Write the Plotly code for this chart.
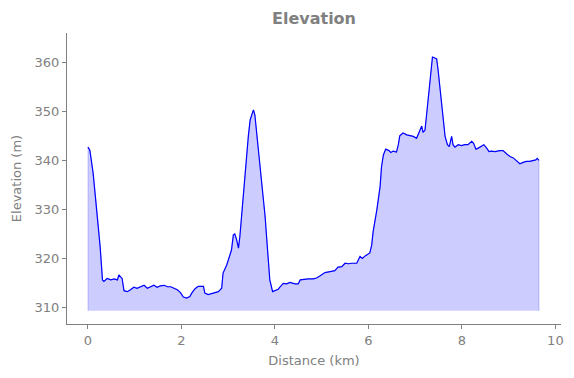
import plotly.graph_objects as go

distance_km = [0.00, 0.04, 0.11, 0.19, 0.21, 0.26, 0.31, 0.34, 0.41, 0.49, 0.56, 0.63, 0.66, 0.70, 0.73,
               0.77, 0.84, 0.91, 0.98, 1.05, 1.13, 1.20, 1.27, 1.34, 1.41, 1.48, 1.55, 1.63, 1.70, 1.77,
               1.84, 1.91, 1.98, 2.04, 2.11, 2.18, 2.22, 2.29, 2.36, 2.47, 2.50, 2.57, 2.68, 2.79, 2.86,
               2.89, 2.97, 3.04, 3.07, 3.11, 3.14, 3.18, 3.22, 3.25, 3.29, 3.32, 3.36, 3.39, 3.43, 3.47,
               3.50, 3.54, 3.57, 3.61, 3.64, 3.68, 3.72, 3.75, 3.79, 3.82, 3.86, 3.89, 3.95, 4.00, 4.07,
               4.11, 4.18, 4.25, 4.32, 4.43, 4.50, 4.54, 4.64, 4.71, 4.82, 4.89, 4.96, 5.07, 5.18, 5.28,
               5.35, 5.43, 5.50, 5.57, 5.64, 5.75, 5.82, 5.87, 5.93, 6.03, 6.07, 6.10, 6.18, 6.25, 6.28,
               6.32, 6.37, 6.44, 6.48, 6.53, 6.60, 6.64, 6.67, 6.74, 6.82, 6.89, 6.96, 7.03, 7.10, 7.14,
               7.17, 7.21, 7.24, 7.28, 7.32, 7.35, 7.37, 7.42, 7.46, 7.49, 7.53, 7.57, 7.60, 7.64, 7.69,
               7.73, 7.78, 7.81, 7.85, 7.92, 7.99, 8.06, 8.13, 8.21, 8.25, 8.30, 8.35, 8.40, 8.47, 8.53,
               8.58, 8.63, 8.71, 8.81, 8.88, 8.96, 9.03, 9.10, 9.17, 9.24, 9.31, 9.38, 9.45, 9.53, 9.58,
               9.61, 9.65]
elevation_m = [342.8, 342.2, 337.5, 330.0, 328.0, 322.5, 315.7, 315.4, 316.0, 315.7, 315.9, 315.7, 316.7, 316.3, 316.0,
               313.5, 313.3, 313.7, 314.2, 314.0, 314.3, 314.6, 314.0, 314.3, 314.6, 314.2, 314.5, 314.6, 314.3, 314.3,
               314.0, 313.7, 313.1, 312.2, 312.0, 312.3, 313.0, 313.9, 314.4, 314.4, 313.0, 312.7, 313.0, 313.3, 314.0,
               317.1, 318.8, 320.8, 321.8, 324.9, 325.1, 323.9, 322.2, 324.6, 329.3, 332.7, 337.5, 341.6, 345.0, 348.4,
               349.4, 350.4, 349.4, 345.7, 342.2, 338.8, 334.8, 332.0, 328.6, 324.6, 319.1, 315.7, 313.3, 313.5, 313.8,
               314.3, 315.0, 314.9, 315.2, 314.9, 314.9, 315.7, 315.9, 315.9, 315.9, 316.1, 316.5, 317.2, 317.4, 317.6,
               318.3, 318.4, 319.1, 319.0, 319.1, 319.1, 320.5, 320.1, 320.6, 321.2, 322.8, 325.5, 330.0, 334.8, 338.8,
               341.2, 342.4, 342.1, 341.7, 342.0, 341.8, 343.3, 345.1, 345.7, 345.3, 345.1, 345.0, 344.6, 346.0, 347.1,
               345.8, 346.3, 349.0, 352.4, 355.9, 359.3, 361.2, 361.0, 360.8, 358.6, 355.2, 351.8, 348.4, 345.0, 343.3,
               342.9, 345.0, 343.3, 342.8, 343.3, 343.1, 343.3, 343.3, 344.0, 343.6, 342.4, 342.6, 342.9, 343.3, 342.6,
               341.9, 342.0, 341.9, 342.1, 342.1, 341.4, 340.9, 340.6, 339.9, 339.4, 339.7, 339.9, 339.9, 340.1, 340.2,
               340.5, 340.1]
fill_base_m = 309.4
x_ticks = [0, 2, 4, 6, 8, 10]
y_ticks = [310, 320, 330, 340, 350, 360]

fig = go.Figure()
fig.add_trace(go.Scatter(
    x=[distance_km[0]] + distance_km + [distance_km[-1]],
    y=[fill_base_m] + elevation_m + [fill_base_m],
    fill="toself", fillcolor="rgba(0,0,255,0.2)",
    line=dict(color="rgba(0,0,255,0.2)", width=1),
    mode="lines", hoverinfo="skip", showlegend=False))
fig.add_trace(go.Scatter(
    x=distance_km, y=elevation_m, mode="lines",
    line=dict(color="blue", width=1.2), showlegend=False))

axis_common = dict(
    showgrid=False, zeroline=False, showline=True, linecolor="#808080", linewidth=1,
    ticks="outside", ticklen=4, tickcolor="#808080", tickwidth=1,
    tickfont=dict(color="#808080", size=13, family="DejaVu Sans"),
)
fig.update_layout(
    width=574, height=378,
    margin=dict(l=67, r=10, t=33, b=54),
    paper_bgcolor="white", plot_bgcolor="white",
    font=dict(family="DejaVu Sans", color="#808080"),
    title=dict(text="<b>Elevation</b>", x=0.5, xref="paper", xanchor="center",
               y=0.952, yref="container", yanchor="middle",
               font=dict(size=16, color="#808080", family="DejaVu Sans")),
    xaxis=dict(range=[-0.449, 10.12], tickvals=x_ticks,
               title=dict(text="Distance (km)", font=dict(size=13, color="#808080"), standoff=9),
               **axis_common),
    yaxis=dict(range=[306.7, 366.1], tickvals=y_ticks,
               title=dict(text="Elevation (m)", font=dict(size=13, color="#808080"), standoff=10),
               **axis_common),
)
fig.write_html("out.html", config={"displayModeBar": False},
               post_script="document.body.style.margin='0';document.body.style.overflow='hidden';")
